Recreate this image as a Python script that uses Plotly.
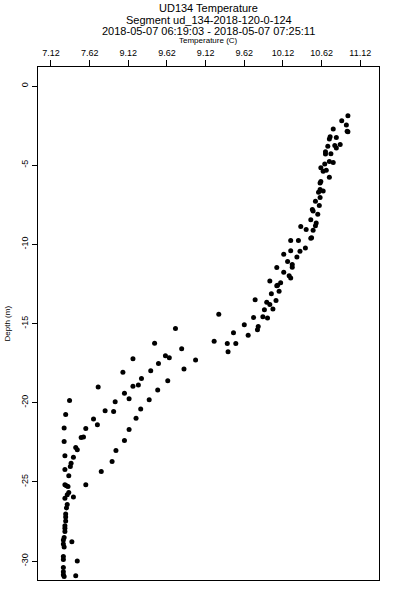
import plotly.graph_objects as go

temperature = [
    10.96, 10.88, 10.94, 10.77, 10.95, 10.96, 10.73, 10.81, 10.72, 10.86,
    10.79, 10.70, 10.81, 10.67, 10.74, 10.67, 10.72, 10.77, 10.66, 10.61,
    10.68, 10.64, 10.72, 10.61, 10.60, 10.60, 10.64, 10.58, 10.60, 10.54,
    10.59, 10.50, 10.51, 10.57, 10.48, 10.55, 10.54, 10.35, 10.42, 10.51,
    10.49, 10.48, 10.22, 10.32, 10.41, 10.34, 10.22, 10.13, 10.30, 10.18,
    10.24, 10.24, 10.04, 10.13, 10.20, 10.22, 9.95, 10.09, 10.05, 10.04,
    10.07, 9.97, 9.76, 10.03, 9.91, 9.95, 9.88, 9.99, 9.29, 9.74,
    9.86, 9.92, 9.62, 9.80, 8.73, 9.79, 9.48, 9.67, 9.23, 9.40,
    9.51, 8.46, 8.81, 9.41, 8.60, 8.65, 8.18, 8.99, 8.51, 8.84,
    8.41, 8.05, 8.29, 8.63, 8.25, 8.18, 7.73, 8.50, 8.07, 8.13,
    8.39, 7.36, 7.95, 8.28, 7.82, 7.93, 7.31, 8.22, 7.67, 7.72,
    7.29, 7.57, 8.13, 7.51, 7.54, 8.07, 7.29, 7.44, 7.46, 7.96,
    7.30, 7.41, 7.91, 7.38, 7.37, 7.30, 7.77, 7.35, 7.30, 7.32,
    7.34, 7.57, 7.35, 7.33, 7.30, 7.41, 7.33, 7.32, 7.31, 7.31,
    7.31, 7.30, 7.30, 7.30, 7.29, 7.28, 7.39, 7.28, 7.29, 7.28,
    7.28, 7.46, 7.28, 7.28, 7.28, 7.29, 7.44,
]

depth = [
    -1.88, -2.20, -2.47, -2.72, -2.85, -2.89, -3.21, -3.25, -3.35, -3.69,
    -3.75, -3.80, -3.92, -4.16, -4.28, -4.30, -4.77, -4.83, -4.92, -5.17,
    -5.32, -5.38, -5.76, -6.03, -6.12, -6.54, -6.63, -6.71, -7.04, -7.28,
    -7.55, -7.80, -7.89, -8.10, -8.44, -8.65, -8.82, -8.88, -9.07, -9.11,
    -9.58, -9.62, -9.75, -9.75, -10.23, -10.44, -10.41, -10.63, -10.80, -11.09,
    -11.27, -11.44, -11.46, -11.77, -11.98, -12.13, -12.32, -12.42, -12.58, -12.61,
    -12.97, -13.12, -13.50, -13.54, -13.65, -13.80, -14.13, -14.09, -14.41, -14.62,
    -14.58, -14.66, -15.08, -15.19, -15.32, -15.40, -15.59, -15.74, -16.12, -16.27,
    -16.27, -16.25, -16.60, -16.79, -17.03, -17.17, -17.22, -17.30, -17.53, -17.87,
    -17.99, -18.08, -18.48, -18.61, -18.88, -18.97, -19.01, -19.20, -19.41, -19.75,
    -19.81, -19.87, -19.94, -20.40, -20.51, -20.55, -20.74, -20.99, -21.03, -21.39,
    -21.60, -21.63, -21.69, -22.20, -22.17, -22.39, -22.45, -22.83, -22.97, -23.02,
    -23.35, -23.44, -23.72, -23.83, -24.03, -24.22, -24.34, -24.61, -25.18, -25.25,
    -25.29, -25.18, -25.68, -25.82, -26.04, -25.96, -26.43, -26.65, -27.03, -27.22,
    -27.47, -27.78, -27.93, -28.13, -28.51, -28.67, -28.78, -28.92, -29.11, -29.72,
    -29.91, -30.00, -30.41, -30.68, -30.87, -30.98, -30.93,
]

x_tick_values = [7.12, 7.62, 8.12, 8.62, 9.12, 9.62, 10.12, 10.62, 11.12]
x_tick_labels = ["7.12", "7.62", "9.12", "9.62", "9.12", "9.62", "10.12", "10.62", "11.12"]
y_tick_values = [0, -5, -10, -15, -20, -25, -30]
y_tick_labels = ["0", "-5", "-10", "-15", "-20", "-25", "-30"]

title_lines = [
    "UD134 Temperature",
    "Segment ud_134-2018-120-0-124",
    "2018-05-07 06:19:03 - 2018-05-07 07:25:11",
]
x_title = "Temperature (C)"
y_title = "Depth (m)"

FONT = "Liberation Sans, Arial, sans-serif"

fig = go.Figure()
fig.add_trace(go.Scatter(
    x=temperature, y=depth, mode="markers",
    marker=dict(symbol="circle", size=5, color="black", line=dict(width=0)),
    showlegend=False, hoverinfo="x+y",
))

fig.update_layout(
    width=400, height=600,
    margin=dict(l=38, r=21, t=67, b=20),
    paper_bgcolor="white", plot_bgcolor="white",
    font=dict(family=FONT, color="black", size=9),
    xaxis=dict(
        side="top", range=[6.952, 11.362],
        tickmode="array", tickvals=x_tick_values, ticktext=x_tick_labels,
        ticks="outside", ticklen=6, tickwidth=1, tickcolor="black",
        showline=True, linecolor="black", linewidth=1, mirror=True,
        showgrid=False, zeroline=False,
        tickfont=dict(family=FONT, size=9, color="black"),
    ),
    yaxis=dict(
        range=[-31.2, 1.2],
        tickmode="array", tickvals=y_tick_values, ticktext=y_tick_labels,
        tickangle=-90,
        ticks="outside", ticklen=5, tickwidth=1, tickcolor="black",
        showline=True, linecolor="black", linewidth=1, mirror=True,
        showgrid=False, zeroline=False,
        tickfont=dict(family=FONT, size=9, color="black"),
    ),
)

annotations = []
for i, line in enumerate(title_lines):
    annotations.append(dict(
        text=line, xref="paper", yref="paper", x=0.5, y=1,
        yshift=59 - 11.5 * i, xanchor="center", yanchor="middle",
        showarrow=False, font=dict(family=FONT, size=11, color="black"),
    ))
annotations.append(dict(
    text=x_title, xref="paper", yref="paper", x=0.5, y=1, yshift=27,
    xanchor="center", yanchor="middle", showarrow=False,
    font=dict(family=FONT, size=8, color="black"),
))
annotations.append(dict(
    text=y_title, xref="paper", yref="paper", x=0, y=0.5, xshift=-31,
    xanchor="center", yanchor="middle", textangle=-90, showarrow=False,
    font=dict(family=FONT, size=8, color="black"),
))
fig.update_layout(annotations=annotations)

fig.write_html(
    "out.html",
    config={"displayModeBar": False},
    post_script="document.body.style.margin='0';document.body.style.overflow='hidden';",
)
